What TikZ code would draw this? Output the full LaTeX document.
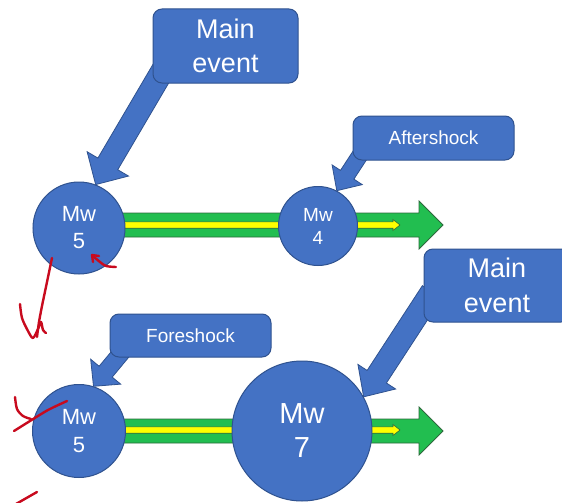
\documentclass[tikz,border=0pt]{standalone}
\usepackage{fontspec}
\setmainfont{Liberation Sans}
\usetikzlibrary{calc}

\definecolor{shapeblue}{HTML}{4472C4}
\definecolor{shapeedge}{HTML}{2F528F}
\definecolor{bandgreen}{RGB}{34,190,80}
\definecolor{bandedge}{RGB}{45,105,60}
\definecolor{bandyellow}{RGB}{255,255,0}
\definecolor{inkred}{RGB}{200,10,30}

% block arrow: #1 style, #2 start, #3 tip, #4 shaft half width,
% #5 head half width, #6 head length
\newcommand{\blockarrow}[6]{%
  \coordinate (ba-h) at ($(#3)!#6!(#2)$);
  \path[#1] ($(#2)!#4!90:(#3)$) -- ($(ba-h)!#4!90:(#3)$) -- ($(ba-h)!#5!90:(#3)$)
    -- (#3) -- ($(ba-h)!#5!-90:(#3)$) -- ($(ba-h)!#4!-90:(#3)$)
    -- ($(#2)!#4!-90:(#3)$) -- cycle;
}

\tikzset{
  quake/.style={circle, fill=shapeblue, draw=shapeedge, line width=1pt,
    text=white, align=center, inner sep=0pt},
  label box/.style={rectangle, rounded corners=9pt, fill=shapeblue,
    draw=shapeedge, line width=1pt, text=white, align=center, inner sep=0pt},
  pointer/.style={fill=shapeblue, draw=shapeedge, line width=0.8pt, line join=miter},
  timeband/.style={fill=bandgreen, draw=bandedge, line width=0.8pt},
  timeline/.style={fill=bandyellow, draw=bandedge, line width=0.6pt},
  ink/.style={draw=inkred, line width=2.4pt, line cap=round, line join=round},
}

\begin{document}
\begin{tikzpicture}[x=1pt, y=-1pt]
  \useasboundingbox (0,0) rectangle (562,503);
  \clip (0,0) rectangle (562,503);
  \fill[white] (0,0) rectangle (562,503);

  % ---------- upper sequence: main event then aftershock ----------
  \coordinate (t1s) at (100,225);
  \coordinate (t1e) at (443,225);
  \coordinate (y1s) at (100,225);
  \coordinate (y1e) at (400,225);
  \blockarrow{timeband}{t1s}{t1e}{12pt}{24pt}{24pt}
  \blockarrow{timeline}{y1s}{y1e}{3.2pt}{5.5pt}{7pt}

  \node[quake, minimum size=92pt, font=\fontsize{22}{27}\selectfont] (c1) at (79,228) {Mw\\5};
  \node[quake, minimum size=79pt, font=\fontsize{19}{23}\selectfont] (c2) at (318,226) {Mw\\4};

  \coordinate (p1) at (163,70);
  \blockarrow{pointer}{p1}{c1.69}{11.5pt}{24pt}{24pt}
  \node[label box, minimum width=145pt, minimum height=74pt,
    font=\fontsize{27}{34}\selectfont] (b1) at (225.5,46) {Main\\event};

  \coordinate (p2) at (364,149);
  \blockarrow{pointer}{p2}{c2.62}{8pt}{18pt}{19pt}
  \node[label box, minimum width=161pt, minimum height=44pt,
    font=\fontsize{19}{23}\selectfont] (b2) at (433.5,138) {Aftershock};

  % ---------- lower sequence: foreshock then main event ----------
  \coordinate (t2s) at (100,431);
  \coordinate (t2e) at (443,431);
  \coordinate (y2s) at (100,430);
  \coordinate (y2e) at (400,430);
  \blockarrow{timeband}{t2s}{t2e}{12pt}{24pt}{24pt}
  \blockarrow{timeline}{y2s}{y2e}{3.2pt}{5.5pt}{7pt}

  \node[quake, minimum size=93pt, font=\fontsize{22}{28}\selectfont] (c3) at (79,431) {Mw\\5};
  \node[quake, minimum size=140pt, font=\fontsize{29}{34}\selectfont] (c4) at (302,431) {Mw\\7};

  \coordinate (p3) at (127,346);
  \blockarrow{pointer}{p3}{c3.72}{8.5pt}{19.5pt}{19pt}
  \node[label box, minimum width=161pt, minimum height=43pt,
    font=\fontsize{19}{23}\selectfont] (b3) at (190.5,335.5) {Foreshock};

  \coordinate (p4) at (432,292);
  \blockarrow{pointer}{p4}{c4.29}{11.5pt}{22.5pt}{24pt}
  \node[label box, minimum width=146pt, minimum height=73pt,
    font=\fontsize{27}{35}\selectfont] (b4) at (497,285.5) {Main\\event};

  % ---------- hand-drawn pen marks ----------
  \draw[ink] plot[smooth] coordinates {(116,267) (106,266) (100,262) (94,257)};
  \draw[ink] (99,256) -- (92,255) -- (93,262);
  \draw[ink] plot[smooth] coordinates {(52,258) (47,282) (42,306) (39,322) (37,337)};
  \draw[ink] plot[smooth] coordinates {(20,304) (22,318) (28,331) (33,338) (38,329) (41,322) (43,330) (46,333)};
  \draw[ink] plot[smooth] coordinates {(14,431) (30,421) (48,410) (67,401)};
  \draw[ink] plot[smooth] coordinates {(15,397) (17,409) (23,416) (31,419)};
  \draw[ink] (16,504) -- (37,492);
\end{tikzpicture}
\end{document}
